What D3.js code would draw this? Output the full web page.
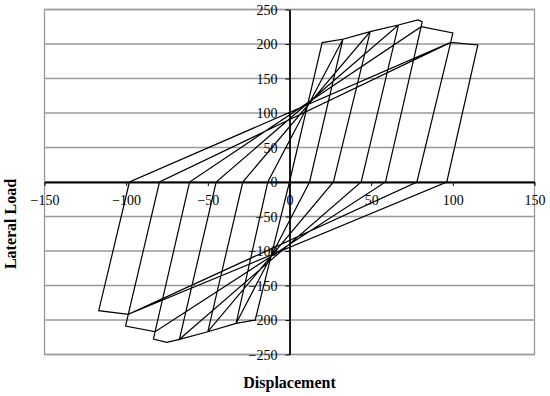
<!DOCTYPE html>
<html>
<head>
<meta charset="utf-8">
<script src="https://cdn.jsdelivr.net/npm/d3@7"></script>
<style>
  html, body { margin: 0; padding: 0; background: #ffffff; }
  #hyst-chart svg { display: block; }
</style>
</head>
<body>
<div id="hyst-chart"></div>
<script>
/* ============================================================
   Hysteresis plot: lateral load vs displacement (cyclic test)
   ============================================================ */

/* ── 1. DATA ───────────────────────────────────────────────── */
// the loops as one continuous stroke: negative envelope first,
// then the cycles of growing amplitude
const displacement = [
  -98.7, -100.4, -82.3, -83.3, -75.1, -67.4, -50, -32.7, -21, 0,
  20, 32.7, 12.3, -32.7, -13.3, 32.7,
  49.4, 26.9, -50, -28.6, 49.4,
  66.7, 43.9, -67.4, -44.9, 66.7,
  78.6, 81.2, 80.6, 58.8, -82.3, -61.2, 80.6,
  100, 98.7, 78, -98.7, -116.8, -98, 98.7,
  115.3, 96.3, -98.7, -79.6, 98.7
];
const lateralLoad = [
  -191.8, -208.7, -217, -227.5, -232.4, -228, -217, -205, -200, 0,
  202, 207, 0, -205, 0, 207,
  218, 0, -217, 0, 218,
  227.5, 0, -228, 0, 227.5,
  234.8, 232.3, 225, 0, -217, 0, 225,
  216, 202.4, 0, -191.8, -186.5, 0, 202.4,
  198.6, 0, -191.8, 0, 202.4
];

const xTicks = [-150, -100, -50, 0, 50, 100, 150];
const yTicks = [-250, -200, -150, -100, -50, 0, 50, 100, 150, 200, 250];

/* ── 2. SVG + SCALES ───────────────────────────────────────── */
const width = 550, height = 396;
const plot = { left: 44.5, right: 534.5, top: 9.5, bottom: 354.5 };
const serif = "'Liberation Serif', 'Times New Roman', serif";

const svg = d3.select("#hyst-chart")
  .append("svg")
    .attr("width", width)
    .attr("height", height);

const x = d3.scaleLinear().domain([-150, 150]).range([plot.left, plot.right]);
const y = d3.scaleLinear().domain([-250, 250]).range([plot.bottom, plot.top]);

const fmt = d => (d < 0 ? "\u2212" + Math.abs(d) : String(d));

/* ── 3. GRIDLINES + PLOT BORDER ────────────────────────────── */
svg.append("g")
  .selectAll("line")
  .data(yTicks)
  .join("line")
    .attr("x1", plot.left)
    .attr("x2", plot.right)
    .attr("y1", d => y(d))
    .attr("y2", d => y(d))
    .attr("stroke", "#999999")
    .attr("stroke-width", 1.3);

svg.append("rect")
  .attr("x", plot.left)
  .attr("y", plot.top)
  .attr("width", plot.right - plot.left)
  .attr("height", plot.bottom - plot.top)
  .attr("fill", "none")
  .attr("stroke", "#999999")
  .attr("stroke-width", 1.3);

/* ── 4. AXES (crossing at the origin) ──────────────────────── */
const xAxis = svg.append("g")
  .attr("transform", `translate(0,${y(0)})`)
  .call(d3.axisBottom(x).tickValues(xTicks).tickSizeInner(4).tickSizeOuter(0).tickFormat(fmt))
  .attr("font-family", serif)
  .attr("font-size", 14);

xAxis.select(".domain").attr("stroke", "#000").attr("stroke-width", 1.8);
xAxis.selectAll(".tick line").attr("stroke", "#000");
xAxis.selectAll(".tick text").attr("fill", "#000").attr("y", 18).attr("dy", "0.35em");

const yAxis = svg.append("g")
  .attr("transform", `translate(${x(0)},0)`)
  .call(d3.axisLeft(y).tickValues(yTicks).tickSizeInner(4).tickSizeOuter(0).tickFormat(fmt))
  .attr("font-family", serif)
  .attr("font-size", 14);

yAxis.select(".domain").attr("stroke", "#000").attr("stroke-width", 1.8);
yAxis.selectAll(".tick line").attr("stroke", "#000");
yAxis.selectAll(".tick text").attr("fill", "#000").attr("x", -12).attr("dy", "0.35em");

/* ── 5. LOAD PATH ──────────────────────────────────────────── */
const line = d3.line()
  .x(i => x(displacement[i]))
  .y(i => y(lateralLoad[i]));

svg.append("path")
  .datum(d3.range(displacement.length))
  .attr("d", line)
  .attr("fill", "none")
  .attr("stroke", "#000000")
  .attr("stroke-width", 1.2)
  .attr("stroke-linejoin", "miter");

/* ── 6. AXIS TITLES ────────────────────────────────────────── */
svg.append("text")
  .attr("font-family", serif)
  .attr("font-size", 16)
  .attr("font-weight", "bold")
  .attr("text-anchor", "middle")
  .attr("x", x(0))
  .attr("y", 388)
  .text("Displacement");

svg.append("text")
  .attr("font-family", serif)
  .attr("font-size", 16)
  .attr("font-weight", "bold")
  .attr("text-anchor", "middle")
  .attr("transform", "translate(16,224) rotate(-90)")
  .text("Lateral Load");
</script>
</body>
</html>
